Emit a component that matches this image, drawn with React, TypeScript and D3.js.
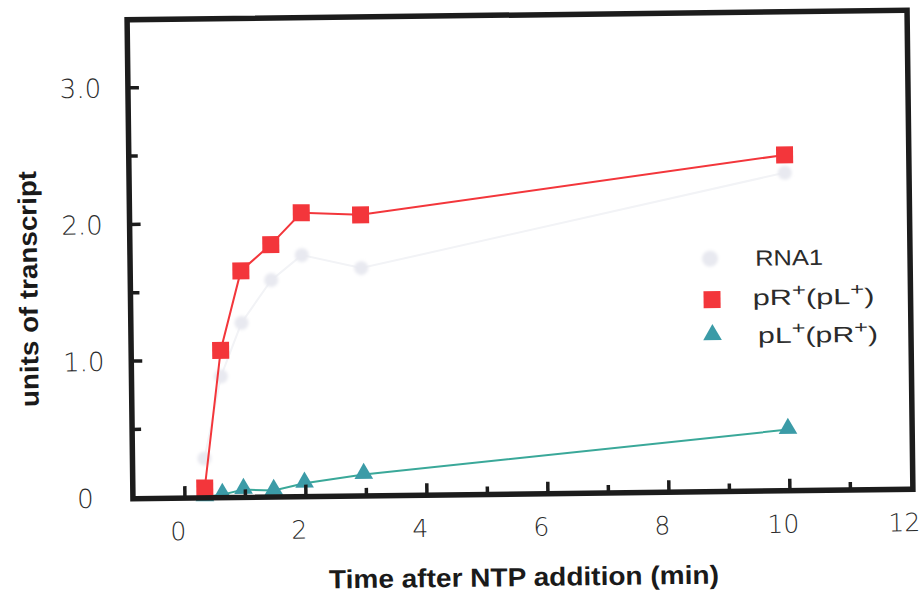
import React from 'react';
import * as d3 from 'd3';

// sampling times (min) and transcript amounts
const times = [0.33, 0.62, 0.97, 1.47, 1.98, 2.96, 9.98];
const rna1 = [0.28, 0.88, 1.27, 1.58, 1.76, 1.66, 2.32];
const pRplus = [0.065, 1.07, 1.65, 1.84, 2.07, 2.05, 2.45];
const pLplus = [0.0, 0.015, 0.05, 0.04, 0.09, 0.15, 0.44];

const xTickValues = [0, 1, 2, 3, 4, 5, 6, 7, 8, 9, 10, 11];
const xLabelValues = [0, 2, 4, 6, 8, 10, 12];
const yTickValues = [0.5, 1, 1.5, 2, 2.5, 3];
const yLabelValues = [0, 1, 2, 3];
const yLabels = ['0', '1.0', '2.0', '3.0'];

const W = 921;
const H = 593;

const RED = '#f3363b';
const TEAL = '#3b9ba7';
const TEAL_LINE = '#3aa899';
const PALE = '#e8e9f0';

const App = () => {
  const x = d3.scaleLinear().domain([0, 12]).range([182, 908]);
  const y = d3.scaleLinear().domain([0, 3]).range([493, 83]);

  const frame = { left: 130, right: 910, top: 15, bottom: 494 };

  const line = d3
    .line<number>()
    .x((_, i) => x(times[i]))
    .y((d) => y(d));

  const tri = d3.symbol().type(d3.symbolTriangle).size(150);

  const tickFont = '"DejaVu Sans", "Liberation Sans", sans-serif';
  const boldFont = '"Liberation Sans", Arial, sans-serif';

  return (
    <svg
      width={W}
      height={H}
      style={{ position: 'absolute', left: 0, top: 0, background: '#fff' }}
    >
      <defs>
        <filter id="soft" x="-50%" y="-50%" width="200%" height="200%">
          <feGaussianBlur stdDeviation="1.6" />
        </filter>
      </defs>
      <g transform="rotate(-0.7 520 255)">
        {/* RNA1 - very faint series */}
        <path d={line(rna1) || ''} fill="none" stroke="#f2f3f6" strokeWidth={2} />
        {rna1.map((d, i) => (
          <circle key={'r' + i} cx={x(times[i])} cy={y(d)} r={7} fill={PALE} filter="url(#soft)" />
        ))}

        {/* pL+(pR+) */}
        <path d={line(pLplus) || ''} fill="none" stroke={TEAL_LINE} strokeWidth={2} />
        {pLplus.map((d, i) => (
          <path
            key={'t' + i}
            d={tri() || ''}
            transform={`translate(${x(times[i])},${y(d) - 1})`}
            fill={TEAL}
          />
        ))}

        {/* pR+(pL+) */}
        <path d={line(pRplus) || ''} fill="none" stroke={RED} strokeWidth={2} />
        {pRplus.map((d, i) => (
          <rect
            key={'s' + i}
            x={x(times[i]) - 8.5}
            y={y(d) - 8.5}
            width={17}
            height={17}
            fill={RED}
          />
        ))}

        {/* frame */}
        <rect
          x={frame.left}
          y={frame.top}
          width={frame.right - frame.left}
          height={frame.bottom - frame.top}
          fill="none"
          stroke="#1c1c1c"
          strokeWidth={5.5}
        />

        {/* x ticks */}
        {xTickValues.map((v) => (
          <line
            key={'xt' + v}
            x1={x(v)}
            x2={x(v)}
            y1={frame.bottom}
            y2={frame.bottom - (v % 2 === 0 ? 12 : 8)}
            stroke="#1c1c1c"
            strokeWidth={3.5}
          />
        ))}
        {/* y ticks */}
        {yTickValues.map((v) => (
          <line
            key={'yt' + v}
            x1={frame.left}
            x2={frame.left + (v % 1 === 0 ? 11 : 9)}
            y1={y(v)}
            y2={y(v)}
            stroke="#1c1c1c"
            strokeWidth={3.5}
          />
        ))}

        {/* x tick labels */}
        {xLabelValues.map((v) => (
          <text
            key={'xl' + v}
            x={x(v) - 7}
            y={536}
            textAnchor="middle"
            fontFamily={tickFont}
            fontWeight={300}
            fontSize={25}
            fill="#2b2b2b"
          >
            {v}
          </text>
        ))}
        {/* y tick labels */}
        {yLabelValues.map((v, i) => (
          <text
            key={'yl' + v}
            x={82.5}
            y={y(v) + 9.5}
            textAnchor="middle"
            fontFamily={tickFont}
            fontWeight={300}
            fontSize={26}
            fill="#2b2b2b"
          >
            {yLabels[i]}
          </text>
        ))}

        {/* axis titles */}
        <text
          x={520}
          y={586}
          textAnchor="middle"
          fontFamily={boldFont}
          fontWeight="bold"
          fontSize={26}
          textLength={390}
          lengthAdjust="spacingAndGlyphs"
          fill="#1a1a1a"
        >
          Time after NTP addition (min)
        </text>
        <text
          transform="translate(37,283) rotate(-90)"
          textAnchor="middle"
          fontFamily={boldFont}
          fontWeight="bold"
          fontSize={26}
          textLength={236}
          lengthAdjust="spacingAndGlyphs"
          fill="#1a1a1a"
        >
          units of transcript
        </text>

        {/* legend */}
        <g fontFamily='"Liberation Sans", Arial, sans-serif' fontSize={22} fill="#2b2b2b">
          <circle cx={710} cy={261} r={8} fill={PALE} filter="url(#soft)" />
          <text x={755} y={268.5} textLength={68} lengthAdjust="spacingAndGlyphs">
            RNA1
          </text>
          <rect x={703} y={293.5} width={17} height={17} fill={RED} />
          <text x={752} y={308} textLength={122} lengthAdjust="spacingAndGlyphs">
            pR<tspan dy={-9} fontSize={17}>+</tspan>
            <tspan dy={9}>(pL</tspan>
            <tspan dy={-9} fontSize={17}>+</tspan>
            <tspan dy={9}>)</tspan>
          </text>
          <path d={tri() || ''} transform="translate(711.5,337)" fill={TEAL} />
          <text x={757} y={346} textLength={120} lengthAdjust="spacingAndGlyphs">
            pL<tspan dy={-9} fontSize={17}>+</tspan>
            <tspan dy={9}>(pR</tspan>
            <tspan dy={-9} fontSize={17}>+</tspan>
            <tspan dy={9}>)</tspan>
          </text>
        </g>
      </g>
    </svg>
  );
};

export default App;
